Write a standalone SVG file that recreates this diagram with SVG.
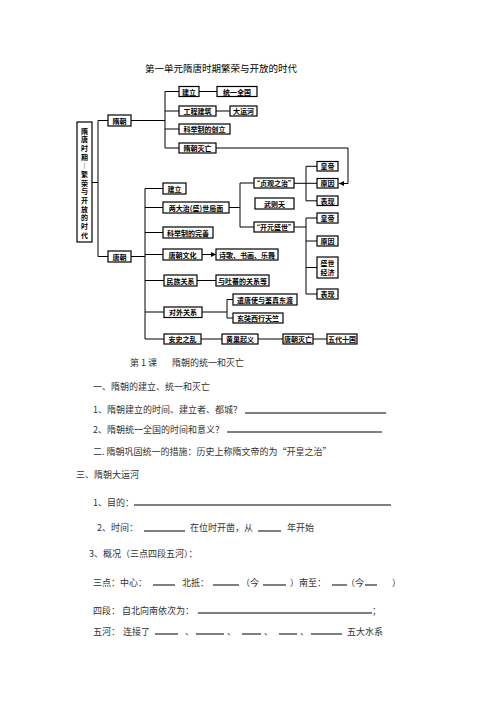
<svg xmlns="http://www.w3.org/2000/svg" width="496" height="702" viewBox="0 0 496 702">
<style>
.b{fill:#fff;stroke:#000;stroke-width:1.2}
.t{font-family:"Noto Sans CJK SC","Noto Sans",sans-serif;font-size:7px;font-weight:bold;text-anchor:middle;dominant-baseline:central;fill:#000}
.v{font-family:"Noto Sans CJK SC","Noto Sans",sans-serif;font-size:7px;font-weight:bold;text-anchor:middle;fill:#000}
.c{stroke:#000;fill:none;stroke-width:1}
.p{font-family:"Noto Sans CJK SC","Noto Sans",sans-serif;font-size:9px;fill:#333}
.u{stroke:#000;stroke-width:1}
</style>
<defs>
<marker id="ah" viewBox="0 0 6 6" refX="6" refY="3" markerWidth="5" markerHeight="5" orient="auto">
<path d="M0,0 L6,3 L0,6 Z" fill="#000"/>
</marker>
</defs>
<rect width="496" height="702" fill="#fff"/>
<text x="221" y="68" class="p" style="font-size:9.5px;fill:#000;text-anchor:middle;dominant-baseline:central">第一单元隋唐时期繁荣与开放的时代</text>

<g id="connectors" class="c">
<path d="M92,182.5H98M98,120.5V256.5M98,120.5H108M98,256.5H108"/>
<path d="M131,120.5H165M165,91.5V148M165,91.5H179M165,111H179M165,129H179M165,148H179"/>
<path d="M199,91.5H217M216,111H230"/>
<path d="M216,148H348V183.5H339" marker-end="url(#ah)"/>
<path d="M131,256.5H145M145,188.5V339M145,188.5H163M145,207.5H163M145,232.5H163M145,254.5H163M145,280.5H164M145,312H164M145,339H164"/>
<path d="M202,254.5H216" marker-end="url(#ah)"/>
<path d="M197,280.5H216"/>
<path d="M202,312H227M227,299.5V318M227,299.5H233M227,318H233"/>
<path d="M201,339H222M258,339H283M313,339H327"/>
<path d="M229,207.5H240M240,183V227M240,183H254M240,227H254"/>
<path d="M294,183.3H317M306,166.3V200.8M306,166.3H317M306,200.8H317"/>
<path d="M294,227H306M306,218V294M306,218H317M306,241H317M306,267.5H317M306,294H317"/>
</g>

<g id="n_title"><rect class="b" x="77" y="122" width="15" height="120"/>
<text class="v" x="84.5" y="133.5">隋</text>
<text class="v" x="84.5" y="142.2">唐</text>
<text class="v" x="84.5" y="150.8">时</text>
<text class="v" x="84.5" y="159.5">期</text>
<text class="v" x="84.5" y="168.2">︱</text>
<text class="v" x="84.5" y="176.8">繁</text>
<text class="v" x="84.5" y="185.5">荣</text>
<text class="v" x="84.5" y="194.2">与</text>
<text class="v" x="84.5" y="202.8">开</text>
<text class="v" x="84.5" y="211.5">放</text>
<text class="v" x="84.5" y="220.2">的</text>
<text class="v" x="84.5" y="228.8">时</text>
<text class="v" x="84.5" y="237.5">代</text>
</g>
<g id="n_sui"><rect class="b" x="108" y="115" width="23" height="11"/><text class="t" x="119.5" y="120.5">隋朝</text></g>
<g id="n_tang"><rect class="b" x="108" y="251" width="23" height="11"/><text class="t" x="119.5" y="256.5">唐朝</text></g>
<g id="s_jianli"><rect class="b" x="179" y="86.5" width="20" height="10"/><text class="t" x="189" y="91.5">建立</text></g>
<g id="s_tongyi"><rect class="b" x="217" y="86.5" width="40" height="10"/><text class="t" x="237" y="91.5">统一全国</text></g>
<g id="s_gongcheng"><rect class="b" x="179" y="106" width="37" height="10"/><text class="t" x="197.5" y="111">工程建筑</text></g>
<g id="s_dayunhe"><rect class="b" x="230" y="106" width="27" height="10"/><text class="t" x="243.5" y="111">大运河</text></g>
<g id="s_keju"><rect class="b" x="179" y="124" width="51" height="10"/><text class="t" x="204.5" y="129">科举制的创立</text></g>
<g id="s_miewang"><rect class="b" x="179" y="143" width="37" height="10"/><text class="t" x="197.5" y="148">隋朝灭亡</text></g>
<g id="t_jianli"><rect class="b" x="163" y="183" width="23" height="11"/><text class="t" x="174.5" y="188.5">建立</text></g>
<g id="t_liangda"><rect class="b" x="163" y="202" width="66" height="11"/><text class="t" x="196" y="207.5">两大治(盛)世局面</text></g>
<g id="t_keju"><rect class="b" x="163" y="227" width="50" height="11"/><text class="t" x="188" y="232.5">科举制的完善</text></g>
<g id="t_wenhua"><rect class="b" x="163" y="249" width="39" height="11"/><text class="t" x="182.5" y="254.5">唐朝文化</text></g>
<g id="t_shige"><rect class="b" x="216" y="249" width="62" height="11"/><text class="t" x="247" y="254.5">诗歌、书画、乐舞</text></g>
<g id="t_minzu"><rect class="b" x="164" y="275" width="33" height="11"/><text class="t" x="180.5" y="280.5">民族关系</text></g>
<g id="t_tubo"><rect class="b" x="216" y="275" width="53" height="11"/><text class="t" x="242.5" y="280.5">与吐蕃的关系等</text></g>
<g id="t_duiwai"><rect class="b" x="164" y="307" width="38" height="10.5"/><text class="t" x="183" y="312.2">对外关系</text></g>
<g id="t_qiantang"><rect class="b" x="233" y="294" width="64" height="11"/><text class="t" x="265" y="299.5">遣唐使与鉴真东渡</text></g>
<g id="t_xuanzang"><rect class="b" x="233" y="313" width="50" height="10"/><text class="t" x="258" y="318">玄奘西行天竺</text></g>
<g id="t_anshi"><rect class="b" x="164" y="334" width="37" height="10"/><text class="t" x="182.5" y="339">安史之乱</text></g>
<g id="t_huangchao"><rect class="b" x="222" y="334" width="36" height="10"/><text class="t" x="240" y="339">黄巢起义</text></g>
<g id="t_tangmie"><rect class="b" x="283" y="334" width="30" height="10"/><text class="t" x="298" y="339">唐朝灭亡</text></g>
<g id="t_wudai"><rect class="b" x="327" y="334" width="30" height="10"/><text class="t" x="342" y="339">五代十国</text></g>
<g id="zhenguan"><rect class="b" x="254" y="178" width="40" height="10"/><text class="t" x="274" y="183">“贞观之治”</text></g>
<g id="wuzetian"><rect class="b" x="255" y="198" width="39" height="11"/><text class="t" x="274.5" y="203.5">武则天</text></g>
<g id="kaiyuan"><rect class="b" x="254" y="222" width="40" height="10"/><text class="t" x="274" y="227">“开元盛世”</text></g>
<g id="zg_huangdi"><rect class="b" x="317" y="161.5" width="21" height="9.5"/><text class="t" x="327.5" y="166.3">皇帝</text></g>
<g id="zg_yuanyin"><rect class="b" x="317" y="178.5" width="21" height="9.5"/><text class="t" x="327.5" y="183.3">原因</text></g>
<g id="zg_biaoxian"><rect class="b" x="317" y="196" width="21" height="9.5"/><text class="t" x="327.5" y="200.8">表现</text></g>
<g id="ky_huangdi"><rect class="b" x="317" y="213" width="21" height="10"/><text class="t" x="327.5" y="218">皇帝</text></g>
<g id="ky_yuanyin"><rect class="b" x="317" y="236" width="21" height="10"/><text class="t" x="327.5" y="241">原因</text></g>
<g id="ky_shengshi"><rect class="b" x="317" y="257" width="21" height="21"/><text class="t" x="327.5" y="263">盛世</text><text class="t" x="327.5" y="272">经济</text></g>
<g id="ky_biaoxian"><rect class="b" x="317" y="289" width="21" height="10"/><text class="t" x="327.5" y="294">表现</text></g>

<g id="worksheet" class="p" style="dominant-baseline:central">
<text x="130" y="362">第 1 课</text>
<text x="172" y="362">隋朝的统一和灭亡</text>
<text x="93" y="386">一、隋朝的建立、统一和灭亡</text>
<text x="93" y="409">1、隋朝建立的时间、建立者、都城？</text>
<text x="93" y="429">2、隋朝统一全国的时间和意义？</text>
<text x="93" y="451">二. 隋朝巩固统一的措施：历史上称隋文帝的为“开皇之治”</text>
<text x="76" y="474">三、隋朝大运河</text>
<text x="93" y="502">1、目的：</text>
<text x="97" y="527">2、时间：</text>
<text x="190" y="527">在位时开凿，从</text>
<text x="287" y="527">年开始</text>
<text x="89" y="553">3、概况（三点四段五河）：</text>
<text x="93" y="582">三点：中心：</text>
<text x="182" y="582">北抵：</text>
<text x="241" y="582">（今</text>
<text x="290" y="582">）南至：</text>
<text x="346" y="582">（今</text>
<text x="392" y="582">）</text>
<text x="93" y="610">四段：</text>
<text x="122" y="610">自北向南依次为：</text>
<text x="372" y="610">；</text>
<text x="93" y="631">五河：</text>
<text x="123" y="631">连接了</text>
<text x="185" y="631">、</text>
<text x="227" y="631">、</text>
<text x="264" y="631">、</text>
<text x="300" y="631">、</text>
<text x="347" y="631">五大水系</text>
</g>
<g id="blanks" class="u">
<path d="M245,413H386M227,432H382M134,505H391M144,531H185M258,531H281M153,585H175M213,585H239M263,585H286M332,585H347M365,585H377M198,613H372M155,634H178M196,634H224M242,634H261M279,634H297M311,634H342"/>
</g>
</svg>
